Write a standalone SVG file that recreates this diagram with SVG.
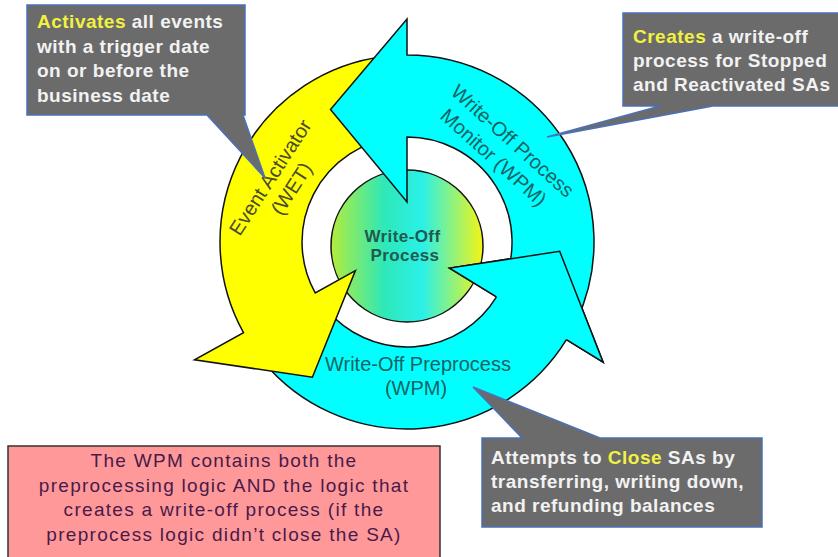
<svg xmlns="http://www.w3.org/2000/svg" width="838" height="557" viewBox="0 0 838 557">
<defs>
<linearGradient id="core" x1="0" y1="0" x2="1" y2="0">
<stop offset="0" stop-color="#b4ec3c"/>
<stop offset="0.35" stop-color="#2ee8b8"/>
<stop offset="0.6" stop-color="#2af0e8"/>
<stop offset="1" stop-color="#f4f414"/>
</linearGradient>
<style>
.arw{stroke:#111;stroke-width:1.5;stroke-linejoin:miter}
.cy{fill:#00ffff}
.ye{fill:#ffff00}
.lbl{font-family:"Liberation Sans",Arial,sans-serif;font-size:20px;text-anchor:middle}
.call{fill:#6b6b6b;stroke:#4a72b8;stroke-width:1.5;stroke-linejoin:miter}
.ct{font-family:"Liberation Sans",Arial,sans-serif;font-size:19px;font-weight:bold;fill:#f2f2f2;letter-spacing:0.5px}
.hl{fill:#f2f240}
.pk{font-family:"Liberation Sans",Arial,sans-serif;font-size:19px;fill:#4a1a4a;text-anchor:middle;letter-spacing:1.3px}
</style>
</defs>
<rect width="838" height="557" fill="#ffffff"/>

<g id="core-process">
<circle cx="407" cy="246" r="76" fill="url(#core)" stroke="#111" stroke-width="1.5"/>
</g>

<g id="connectors">
<g id="arrow-preprocess">
<path class="arw cy" d="M263.8,362.2 A187,187 0 0 0 566.4,339.7 L603.1,362.2 L559.7,251.3 L449.6,268.1 L496.5,296.9 A105,105 0 0 1 326.6,309.5 Z"/>
</g>
<g id="arrow-event-activator">
<path class="arw ye" d="M384.2,56.4 A187,187 0 0 0 243.5,332.7 L194.5,359.8 L312.4,377.2 L355.4,270.6 L315.2,292.9 A105,105 0 0 1 394.2,137.8 Z"/>
</g>
<g id="arrow-monitor">
<path class="arw cy" d="M576.5,321.0 A187,187 0 0 0 407,55 L407,19 L330.5,109.5 L407,202 L407,137 A105,105 0 0 1 502.2,286.4 Z"/>
</g>
<g id="arrow-preprocess-head">
<path class="cy" d="M566.4,339.7 L603.1,362.2 L559.7,251.3 L449.6,268.1 L496.5,296.9 Z"/>
<path fill="none" stroke="#111" stroke-width="1.5" d="M566.4,339.7 L603.1,362.2 L559.7,251.3 L449.6,268.1 L496.5,296.9"/>
</g>
</g>

<g id="label-event-activator" transform="translate(276,181) rotate(-57)">
<text class="lbl" fill="#4a4a30" x="0" y="0">Event Activator</text>
<text class="lbl" fill="#4a4a30" x="2" y="24">(WET)</text>
</g>
<g id="label-monitor" transform="translate(508,146) rotate(42)">
<text class="lbl" fill="#176363" x="0" y="0">Write-Off Process</text>
<text class="lbl" fill="#176363" x="-3" y="25">Monitor (WPM)</text>
</g>
<g id="label-preprocess">
<text class="lbl" fill="#176363" x="418" y="371">Write-Off Preprocess</text>
<text class="lbl" fill="#176363" x="416" y="395">(WPM)</text>
</g>

<g id="core-label">
<text font-family="Liberation Sans,Arial,sans-serif" font-size="17" font-weight="bold" fill="#1f5a50" text-anchor="middle" letter-spacing="0.4">
<tspan x="405" y="242">Write-Off</tspan>
<tspan x="405" y="261">Process</tspan>
</text>
</g>

<g id="callout-activates">
<path class="call" d="M27,5 H245 V115 H243 L265,178 L207,115 H27 Z"/>
<text class="ct"><tspan x="37" y="28"><tspan class="hl">Activates</tspan> all events</tspan><tspan x="37" y="53">with a trigger date</tspan><tspan x="37" y="77">on or before the</tspan><tspan x="37" y="102">business date</tspan></text>
</g>

<g id="callout-creates">
<path class="call" d="M623,13 H842 V106 H713 L547,137 L660,106 H623 Z"/>
<text class="ct"><tspan x="633" y="43"><tspan class="hl">Creates</tspan> a write-off</tspan><tspan x="633" y="67">process for Stopped</tspan><tspan x="633" y="91">and Reactivated SAs</tspan></text>
</g>

<g id="callout-attempts">
<path class="call" d="M482,438 H522 L473,387 L600,438 H762 V527 H482 Z"/>
<text class="ct"><tspan x="491" y="464">Attempts to <tspan class="hl">Close</tspan> SAs by</tspan><tspan x="491" y="488">transferring, writing down,</tspan><tspan x="491" y="512">and refunding balances</tspan></text>
</g>

<g id="note-wpm">
<rect x="8" y="446" width="432" height="116" fill="#ff9999" stroke="#333" stroke-width="1.5"/>
<text class="pk"><tspan x="224" y="467">The WPM contains both the</tspan><tspan x="224" y="491.5">preprocessing logic AND the logic that</tspan><tspan x="224" y="516">creates a write-off process (if the</tspan><tspan x="224" y="540.5">preprocess logic didn’t close the SA)</tspan></text>
</g>
</svg>
